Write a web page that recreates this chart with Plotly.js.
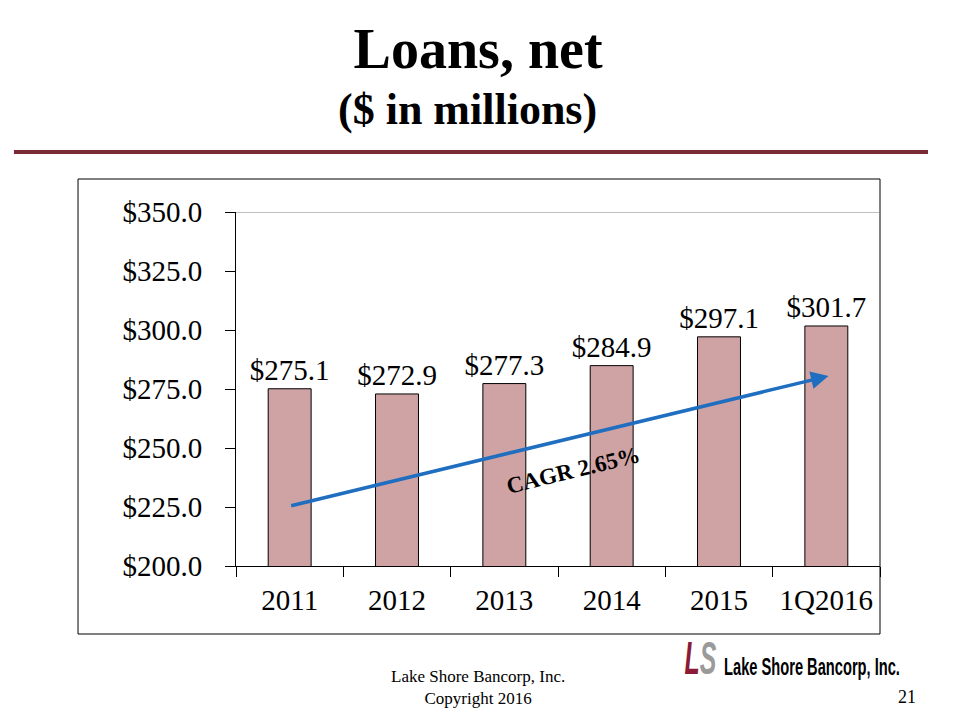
<!DOCTYPE html>
<html>
<head>
<meta charset="utf-8">
<script src="https://cdn.plot.ly/plotly-3.0.1.min.js"></script>
<style>html,body{margin:0;padding:0;background:#fff;}#chart{width:960px;height:720px;}</style>
</head>
<body>
<div id="chart"></div>
<script>
const categories = ["2011", "2012", "2013", "2014", "2015", "1Q2016"];
const loansNet = [275.1, 272.9, 277.3, 284.9, 297.1, 301.7];
const yTicks = [200, 225, 250, 275, 300, 325, 350];
const yTickLabels = ["$200.0", "$225.0", "$250.0", "$275.0", "$300.0", "$325.0", "$350.0"];
const trendStart = {x: 0, y: 225.4};
const trendEnd = {x: 5.02, y: 280.5};

const serif = "Liberation Serif, Times New Roman, serif";

const trace = {
  type: "bar",
  x: categories,
  y: loansNet,
  width: 0.4,
  marker: {color: "#CFA3A4", line: {color: "#000", width: 1}},
  texttemplate: "$%{y:.1f}",
  textposition: "outside",
  constraintext: "none",
  textfont: {family: serif, size: 29, color: "#000"},
  cliponaxis: false,
  hoverinfo: "none"
};

const layout = {
  width: 960, height: 720,
  margin: {l: 236, r: 80, t: 212, b: 154},
  paper_bgcolor: "#fff", plot_bgcolor: "#fff",
  showlegend: false,
  font: {family: serif, color: "#000"},
  xaxis: {
    type: "category",
    showline: true, linecolor: "#000", linewidth: 1,
    ticks: "outside", tickson: "boundaries", ticklen: 10, tickcolor: "#000",
    tickfont: {family: serif, size: 29, color: "#000"},
    ticklabelstandoff: 8,
    showgrid: false, zeroline: false, fixedrange: true
  },
  yaxis: {
    range: [200, 350],
    tickvals: yTicks,
    ticktext: yTickLabels,
    showline: true, linecolor: "#000", linewidth: 1,
    ticks: "outside", ticklen: 10, tickcolor: "#000",
    tickfont: {family: serif, size: 29, color: "#000"},
    ticklabelstandoff: 17,
    showgrid: false, zeroline: false, fixedrange: true
  },
  title: {
    text: "<b>Loans, net</b>",
    font: {family: serif, size: 56, color: "#000"},
    x: 0.498, xanchor: "center", y: 0.933, yanchor: "middle"
  },
  shapes: [
    {type: "line", xref: "paper", yref: "y", x0: 0, x1: 1, y0: 350, y1: 350, line: {color: "#808080", width: 1}},
    {type: "rect", xref: "paper", yref: "paper", x0: -0.2453, x1: 1.0, y0: -0.1921, y1: 1.0932, line: {color: "#000", width: 1}, fillcolor: "rgba(0,0,0,0)", layer: "below"},
    {type: "line", xref: "paper", yref: "paper", x0: -0.3448, x1: 1.0745, y0: 1.1695, y1: 1.1695, line: {color: "#7B2B35", width: 4}}
  ],
  annotations: [
    {text: "<b>($ in millions)</b>", xref: "paper", yref: "paper", x: 0.36, y: 1.29, xanchor: "center", yanchor: "middle", showarrow: false, font: {family: serif, size: 44, color: "#000"}},
    {x: trendEnd.x, y: trendEnd.y, ax: trendStart.x, ay: trendStart.y, xref: "x", yref: "y", axref: "x", ayref: "y", text: "", showarrow: true, arrowhead: 2, arrowsize: 1, arrowwidth: 3.5, arrowcolor: "#1F6EC0"},
    {text: "<b>CAGR 2.65%</b>", xref: "x", yref: "y", x: 2.64, y: 240.3, showarrow: false, textangle: -13.8, font: {family: serif, size: 23, color: "#000"}},
    {text: "Lake Shore Bancorp, Inc.<br>Copyright 2016", xref: "paper", yref: "paper", x: 0.376, y: -0.343, xanchor: "center", yanchor: "middle", showarrow: false, font: {family: serif, size: 17, color: "#000"}},
    {text: "21", xref: "paper", yref: "paper", x: 1.042, y: -0.371, xanchor: "center", yanchor: "middle", showarrow: false, font: {family: serif, size: 18, color: "#000"}},
    {name: "logoLS", text: "<i><b><span style='color:#8B1A36'>L</span><span style='color:#9A9A9A'>S</span></b></i>", xref: "paper", yref: "paper", x: 0.721, y: -0.26, xanchor: "center", yanchor: "middle", showarrow: false, font: {family: "Liberation Sans, Arial, sans-serif", size: 46}},
    {name: "logoText", text: "<b>Lake Shore Bancorp, Inc.</b>", xref: "paper", yref: "paper", x: 0.755, y: -0.285, xanchor: "left", yanchor: "middle", showarrow: false, font: {family: "Liberation Sans, Arial, sans-serif", size: 24, color: "#000"}}
  ]
};

function squeeze(el, targetWidth, anchor) {
  const bb = el.getBBox();
  if (!bb.width) return;
  const s = targetWidth / bb.width;
  const ax = anchor === "left" ? bb.x : bb.x + bb.width / 2;
  el.setAttribute("transform", "translate(" + ax + ",0) scale(" + s + ",1) translate(" + (-ax) + ",0)");
}

Plotly.newPlot("chart", [trace], layout, {displayModeBar: false, staticPlot: true}).then(function (gd) {
  const texts = gd.querySelectorAll(".annotation-text");
  texts.forEach(function (t) {
    const s = t.textContent;
    if (s === "Lake Shore Bancorp, Inc.") squeeze(t, 176, "left");
    if (s === "LS") squeeze(t, 32, "center");
  });
});
</script>
</body>
</html>
